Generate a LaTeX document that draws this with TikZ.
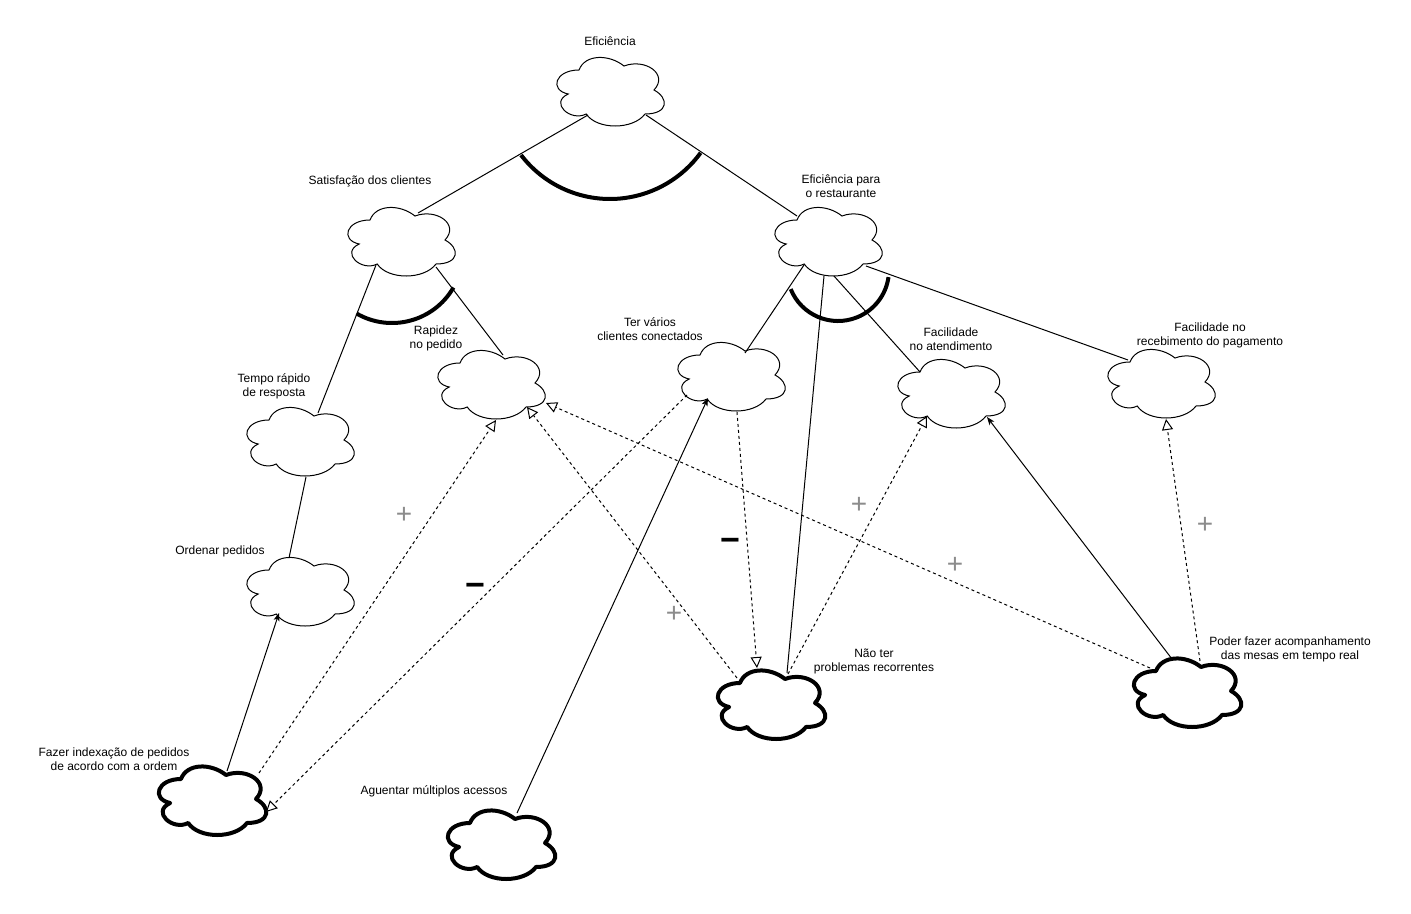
\documentclass[tikz,border=0pt]{standalone}
\usepackage{fontspec}
\setmainfont{Liberation Sans}
\usetikzlibrary{arrows.meta}
\newcommand\dcloud[4]{%
  \node[cloudnode] (#1) at (#2+60,#3+40) {};
  \draw[#4,shift={(#2,#3)}] (30,20) .. controls (6,20) and (0,40) .. (19.2,44)
    .. controls (0,52.8) and (21.6,72) .. (37.2,64)
    .. controls (48,80) and (84,80) .. (96,64)
    .. controls (120,64) and (120,48) .. (105,40)
    .. controls (120,24) and (96,8) .. (75,16)
    .. controls (60,4) and (36,4) .. (30,20) -- cycle;
}
\begin{document}
\begin{tikzpicture}[x=1pt,y=-1pt,
  cloudnode/.style={draw=none,inner sep=0pt,minimum width=120pt,minimum height=80pt},
  cthin/.style={draw=black,fill=white,line width=1pt},
  cbold/.style={draw=black,fill=white,line width=4pt,line join=round},
  conn/.style={draw=black,line width=1pt},
  solidarrow/.style={conn,-{Stealth[length=8pt,width=6pt,inset=2pt]}},
  openarrow/.style={conn,dash pattern=on 3pt off 3pt,-{Triangle[open,length=11pt,width=11pt,fill=white]}},
  andarc/.style={draw=black,line width=4pt},
  lbl/.style={font=\fontsize{12}{14}\selectfont,align=center,inner sep=0pt},
  plus/.style={font=\fontsize{28}{28}\selectfont,text=black!45,inner sep=0pt},
  minus/.style={font=\fontsize{34}{34}\selectfont\bfseries,text=black,inner sep=0pt}]
\fill[white] (0,0) rectangle (1411,913);
\useasboundingbox (0,0) rectangle (1411,913);

% clouds
\dcloud{ef}{549}{50}{cthin}
\dcloud{sat}{340}{200}{cthin}
\dcloud{efr}{767}{200}{cthin}
\dcloud{rap}{430}{343}{cthin}
\dcloud{tem}{239}{400}{cthin}
\dcloud{ter}{670}{335}{cthin}
\dcloud{fat}{890}{352}{cthin}
\dcloud{frp}{1100}{342}{cthin}
\dcloud{ord}{239}{550}{cthin}
\dcloud{nao}{710}{663}{cbold}
\dcloud{pod}{1126}{651}{cbold}
\dcloud{idx}{151}{759}{cbold}
\dcloud{agu}{440}{803}{cbold}

% decomposition lines
\draw[conn] ([shift={(-21,25)}]ef.center) -- ([shift={(18,-27)}]sat.center);
\draw[conn] ([shift={(37,25)}]ef.center) -- ([shift={(-30,-24)}]efr.center);
\draw[conn] ([shift={(-24,25)}]sat.center) -- ([shift={(19,-27)}]tem.center);
\draw[conn] ([shift={(36,27)}]sat.center) -- ([shift={(13,-28)}]rap.center);
\draw[conn] ([shift={(7,37)}]tem.center) -- ([shift={(-10,-32)}]ord.center);
\draw[conn] ([shift={(-23,25)}]efr.center) -- ([shift={(15,-22)}]ter.center);
\draw[conn] ([shift={(-3,36)}]efr.center) -- ([shift={(17,-30)}]nao.center);
\draw[conn] ([shift={(7,36)}]efr.center) -- ([shift={(-30,-20)}]fat.center);
\draw[conn] ([shift={(39,26)}]efr.center) -- ([shift={(-32,-22)}]frp.center);

% AND arcs
\draw[andarc] (610,87) ++(142.6:112) arc[start angle=142.6,end angle=36,radius=112];
\draw[andarc] (392,252) ++(120:71) arc[start angle=120,end angle=30,radius=71];
\draw[andarc] (838,270) ++(158:51) arc[start angle=158,end angle=8,radius=51];

% solid arrows
\draw[solidarrow] ([shift={(16,-28)}]idx.center) -- ([shift={(-20,23)}]ord.center);
\draw[solidarrow] ([shift={(17,-30)}]agu.center) -- ([shift={(-22,23)}]ter.center);
\draw[solidarrow] ([shift={(-14,-32)}]pod.center) -- ([shift={(37,25)}]fat.center);

% contributions (dashed)
\draw[openarrow] ([shift={(48,-26)}]idx.center) -- ([shift={(6,37)}]rap.center);
\draw[openarrow] ([shift={(-43,20)}]ter.center) -- ([shift={(55,13)}]idx.center);
\draw[openarrow] ([shift={(-33,-25)}]nao.center) -- ([shift={(37,24)}]rap.center);
\draw[openarrow] ([shift={(7,37)}]ter.center) -- ([shift={(-13,-35)}]nao.center);
\draw[openarrow] ([shift={(18,-29)}]nao.center) -- ([shift={(-23,24)}]fat.center);
\draw[openarrow] ([shift={(-36,-23)}]pod.center) -- ([shift={(56,20)}]rap.center);
\draw[openarrow] ([shift={(14,-30)}]pod.center) -- ([shift={(6,37)}]frp.center);

% contribution signs
\node[plus] (s1) at (404,515) {+};
\node[minus] (s2) at (475,590) {−};
\node[plus] (s3) at (674,614) {+};
\node[minus] (s4) at (730,545) {−};
\node[plus] (s5) at (859,505) {+};
\node[plus] (s6) at (955,565) {+};
\node[plus] (s7) at (1205,525) {+};

% labels
\node[lbl] (t1) at (610,41) {Eficiência};
\node[lbl] (t2) at (370,181) {Satisfação dos clientes};
\node[lbl] (t3) at (841,186) {Eficiência para\\o restaurante};
\node[lbl] (t4) at (436,338) {Rapidez\\no pedido};
\node[lbl] (t5) at (274,386) {Tempo rápido\\de resposta};
\node[lbl] (t6) at (650,329) {Ter vários\\clientes conectados};
\node[lbl] (t7) at (951,339) {Facilidade\\no atendimento};
\node[lbl] (t8) at (1210,335) {Facilidade no\\recebimento do pagamento};
\node[lbl] (t9) at (220,551) {Ordenar pedidos};
\node[lbl] (t10) at (874,661) {Não ter\\problemas recorrentes};
\node[lbl] (t11) at (1290,649) {Poder fazer acompanhamento\\das mesas em tempo real};
\node[lbl] (t12) at (114,759) {Fazer indexação de pedidos\\de acordo com a ordem};
\node[lbl] (t13) at (434,791) {Aguentar múltiplos acessos};
\end{tikzpicture}
\end{document}
